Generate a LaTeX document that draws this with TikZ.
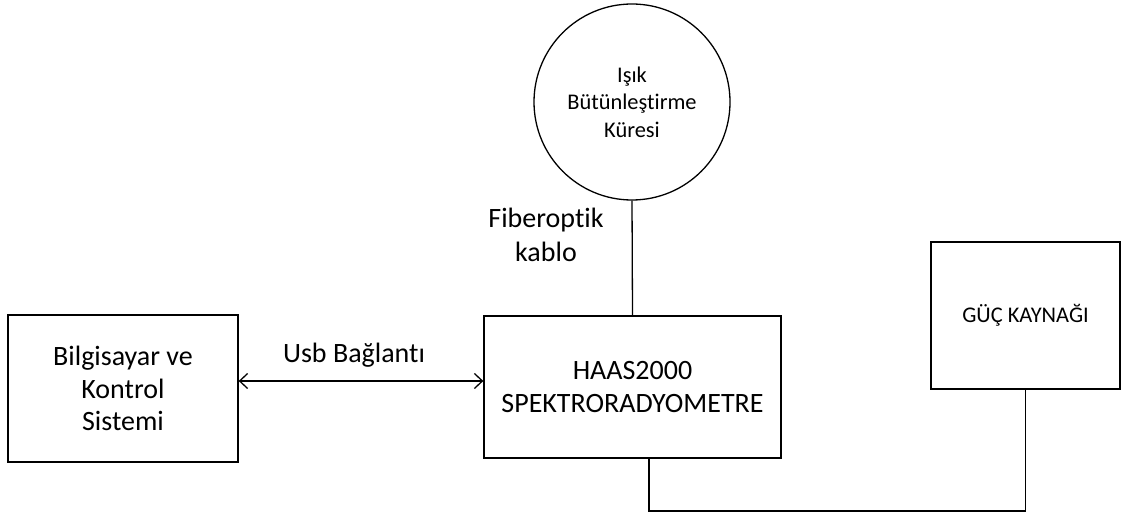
\documentclass[tikz,border=0pt]{standalone}
\usepackage{fontspec}
\setmainfont{Carlito}[Ligatures = NoCommon]
\usetikzlibrary{arrows.meta, positioning}

\begin{document}
\begin{tikzpicture} [x = 0.5pt, y = -0.5pt, line width = 0.65pt,
  >={Straight Barb[length = 4pt, width = 7.5pt]},
  kutu/.style = {draw, rectangle, inner sep = 0pt, align = center},
  yazi/.style = {font = \fontsize{14}{16.25}\selectfont}]
\useasboundingbox (0,0) rectangle (1144,513);
\node(kure)[draw, circle, minimum size = 98pt, inner sep = 0pt, align = center,
  font = \fontsize{11.2}{13.75}\selectfont] at (632,102) {Işık\\Bütünleştirme\\Küresi};
\node(spektro)[kutu, yazi, minimum width = 148.5pt, minimum height = 71pt] at (632.5,387) {HAAS2000\\SPEKTRORADYOMETRE};
\node(pc)[kutu, yazi, minimum width = 115pt, minimum height = 73.5pt] at (123,388.5) {Bilgisayar ve\\Kontrol\\Sistemi};
\node(guc)[kutu, minimum width = 94.5pt, minimum height = 73.5pt,
  font = \fontsize{11.2}{13}\selectfont] at (1025.5,315.5) {GÜÇ KAYNAĞI};
\node(usb)[yazi] at (354,355) {Usb Bağlantı};
\node(fiber)[align = center, font = \fontsize{14}{17}\selectfont] at (546,235) {Fiberoptik\\kablo};
\coordinate (kablo) at (649,511);
\draw (kure.south) -- (spektro.north);
\draw [<->] (pc.east |- 0,381) -- (spektro.west |- 0,381);
\draw (kablo |- spektro.south) -- (kablo) -| (guc.south);
\end{tikzpicture}
\end{document}
